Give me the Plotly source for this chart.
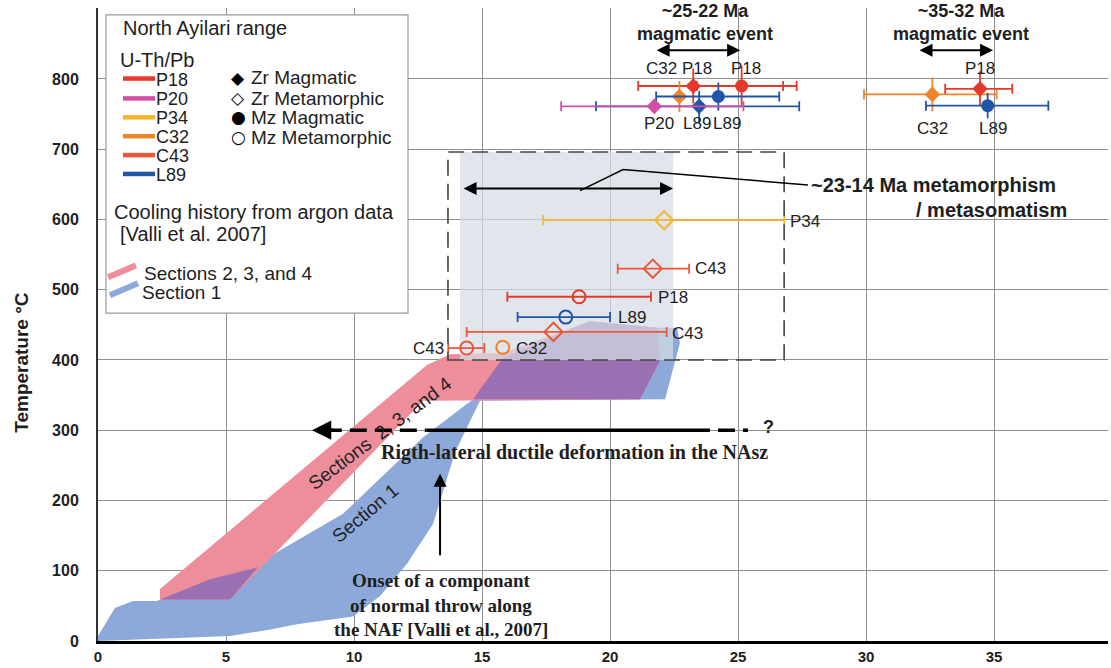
import plotly.graph_objects as go

# ---------------- data ----------------
sample = ["P18", "P18", "C32", "L89", "L89", "P20", "C32", "P18", "L89",
          "P34", "C43", "P18", "L89", "C43", "C43", "C32"]
kind = ["Zr Magmatic", "Mz Magmatic", "Zr Magmatic", "Mz Magmatic", "Zr Magmatic",
        "Zr Magmatic", "Zr Magmatic", "Zr Magmatic", "Mz Magmatic",
        "Zr Metamorphic", "Zr Metamorphic", "Mz Metamorphic", "Mz Metamorphic",
        "Zr Metamorphic", "Mz Metamorphic", "Mz Metamorphic"]
age_ma = [23.25, 25.14, 22.71, 24.23, 23.48, 21.73, 32.59, 34.45, 34.75,
          22.11, 21.67, 18.79, 18.27, 17.79, 14.40, 15.81]
age_min = [21.10, 23.39, 22.71, 21.80, 19.45, 18.09, 29.92, 33.09, 32.34,
           17.39, 20.30, 15.99, 16.39, 14.40, 13.68, 15.81]
age_max = [26.76, 27.29, 22.71, 26.61, 27.39, 25.21, 35.10, 35.71, 37.12,
           26.81, 23.09, 21.60, 20.00, 22.21, 15.09, 15.81]
temp_c = [790, 790, 775, 775, 761, 761, 778, 786, 762,
          599, 530, 490, 461, 440, 417, 418]
temp_err = [25, 28, 22, 20, 22, 0, 24, 25, 18,
            0, 0, 0, 0, 0, 0, 0]

# cooling-history bands (Valli et al. 2007)
band234_age = [2.42, 5.16, 12.70, 21.17, 21.95, 21.84, 19.20, 15.82, 13.75, 12.85, 2.42]
band234_temp = [59, 59, 342, 344, 399, 446, 455, 410, 408, 393, 74]
band1_age = [0.0, 5.16, 6.84, 7.77, 9.96, 11.02, 12.07, 13.09, 13.95, 14.92, 22.15,
             22.73, 22.62, 21.84, 19.20, 15.82, 14.65, 12.70, 9.57, 6.21, 4.38,
             2.30, 1.37, 0.66, 0.0]
band1_temp = [0, 7, 17, 24, 35, 64, 110, 167, 269, 342, 344,
              424, 446, 446, 455, 403, 344, 290, 181, 110, 88,
              57, 57, 47, 7]
overlap_low_age = [2.42, 5.16, 6.25, 4.38]
overlap_low_temp = [59, 59, 105, 88]
overlap_high_age = [14.65, 21.17, 21.95, 21.84, 19.20, 15.82]
overlap_high_temp = [344, 344, 399, 446, 455, 403]

# metamorphism window
meta_box_age = [13.67, 26.80]
meta_box_temp = [400, 696]
meta_fill_age = [14.14, 22.46]
meta_arrow_age = [14.22, 22.46]
meta_arrow_temp = 644
meta_leader_age = [18.83, 20.51, 27.73]
meta_leader_temp = [641, 671, 649]

# magmatic events
event1_age = [21.76, 25.08]
event2_age = [32.03, 34.96]
event_temp = 841

# ductile deformation
deform_temp = 300
deform_dash_left = [8.36, 12.84]
deform_solid = [12.84, 23.24]
deform_dash_right = [23.24, 25.39]
onset_age = 13.36
onset_temp = [120, 238]

x_ticks = [0, 5, 10, 15, 20, 25, 30, 35]
y_ticks = [0, 100, 200, 300, 400, 500, 600, 700, 800, 900]
y_ticktext = ["0", "100", "200", "300", "400", "500", "600", "700", "800", ""]

legend_samples = ["P18", "P20", "P34", "C32", "C43", "L89"]
legend_kinds = ["Zr Magmatic", "Zr Metamorphic", "Mz Magmatic", "Mz Metamorphic"]
legend_glyphs = ["\u25C6", "\u25C7", "\u25CF", "\u25CB"]

# ---------------- styles ----------------
COL = {"P18": "#E8382B", "P20": "#D24FA6", "P34": "#F4B62C",
       "C32": "#F0842A", "C43": "#E9573C", "L89": "#1F56A8"}
SYM = {"Zr Magmatic": "diamond", "Zr Metamorphic": "diamond-open",
       "Mz Magmatic": "circle", "Mz Metamorphic": "circle-open"}
SIZE = {"Zr Magmatic": 12, "Zr Metamorphic": 14, "Mz Magmatic": 13, "Mz Metamorphic": 13}
SANS = "Liberation Sans, Arial, sans-serif"
SERIF = "Liberation Serif, Times New Roman, serif"
PINK = "#EF8E9B"
BLUE = "#8DA9D9"
PURPLE = "#9B70B3"

# plot area in pixels: left 98, right 1108, top 8, bottom 645
def P(px, py):
    return (px - 98) / 1010.0, (645 - py) / 637.0

fig = go.Figure()

# bands
fig.add_trace(go.Scatter(x=band1_age, y=band1_temp, fill="toself", fillcolor=BLUE,
                         mode="lines", line=dict(width=0), hoverinfo="skip"))
fig.add_trace(go.Scatter(x=band234_age, y=band234_temp, fill="toself", fillcolor=PINK,
                         mode="lines", line=dict(width=0), hoverinfo="skip"))
for ox, oy in [(overlap_low_age, overlap_low_temp), (overlap_high_age, overlap_high_temp)]:
    fig.add_trace(go.Scatter(x=ox, y=oy, fill="toself", fillcolor=PURPLE,
                             mode="lines", line=dict(width=0), hoverinfo="skip"))

# grey metamorphism window fill
fx = [meta_fill_age[0], meta_fill_age[1], meta_fill_age[1], meta_fill_age[0], meta_fill_age[0]]
fy = [meta_box_temp[0], meta_box_temp[0], meta_box_temp[1], meta_box_temp[1], meta_box_temp[0]]
fig.add_trace(go.Scatter(x=fx, y=fy, fill="toself", fillcolor="rgba(212,220,229,0.72)",
                         mode="lines", line=dict(width=0), hoverinfo="skip"))

# data points
for s, k, a, lo, hi, t, te in zip(sample, kind, age_ma, age_min, age_max, temp_c, temp_err):
    c = COL[s]
    ex = dict(type="data", symmetric=False, array=[hi - a], arrayminus=[a - lo],
              color=c, thickness=1.8, width=5, visible=(hi - lo) > 0)
    ey = dict(type="data", array=[te], color=c, thickness=1.8, width=0, visible=te > 0)
    fig.add_trace(go.Scatter(
        x=[a], y=[t], mode="markers", error_x=ex, error_y=ey,
        marker=dict(symbol=SYM[k], size=SIZE[k], color=c,
                    line=dict(width=2 if "open" in SYM[k] else 0, color=c)),
        name=f"{s} {k}"))

shapes = []
# dashed metamorphism box
shapes.append(dict(type="rect", xref="x", yref="y",
                   x0=meta_box_age[0], x1=meta_box_age[1], y0=meta_box_temp[0], y1=meta_box_temp[1],
                   line=dict(color="#444", width=1.6, dash="16px,8px"), layer="above"))
# leader line
shapes.append(dict(type="path", xref="x", yref="y",
                   path="M {} {} L {} {} L {} {}".format(meta_leader_age[0], meta_leader_temp[0],
                                                         meta_leader_age[1], meta_leader_temp[1],
                                                         meta_leader_age[2], meta_leader_temp[2]),
                   line=dict(color="black", width=1.5), layer="above"))
# deformation arrow shaft
for seg, dash in [(deform_dash_left, "17px,8px"), (deform_solid, "solid"), (deform_dash_right, "17px,8px")]:
    shapes.append(dict(type="line", xref="x", yref="y", x0=seg[0] + (0.5 if seg is deform_dash_left else 0),
                       x1=seg[1], y0=deform_temp, y1=deform_temp,
                       line=dict(color="black", width=3.5, dash=dash), layer="above"))

# legend box
lx0, ly0 = P(106, 15)
lx1, ly1 = P(408, 315)
shapes.append(dict(type="rect", xref="paper", yref="paper", x0=lx0, x1=lx1, y0=ly1, y1=ly0,
                   fillcolor="white", line=dict(color="#9a9a9a", width=1.2), layer="above"))
rows_py = [79, 99, 118, 137, 156, 175]
for s, py in zip(legend_samples, rows_py):
    a0, b0 = P(123, py)
    a1, _ = P(155, py)
    shapes.append(dict(type="line", xref="paper", yref="paper", x0=a0, x1=a1, y0=b0, y1=b0,
                       line=dict(color=COL[s], width=4.5), layer="above"))
for col, (p0, p1) in [(PINK, ((108, 279), (136, 267))), (BLUE, ((110, 297), (138, 285)))]:
    a0, b0 = P(*p0)
    a1, b1 = P(*p1)
    shapes.append(dict(type="line", xref="paper", yref="paper", x0=a0, x1=a1, y0=b0, y1=b1,
                       line=dict(color=col, width=6), layer="above"))

ann = []

def txt(text, x, y, size=17, xanchor="center", family=SANS, bold=False, ref="data",
        angle=0, color="#1e1e1e"):
    d = dict(text=text, x=x, y=y, showarrow=False, xanchor=xanchor, yanchor="middle",
             textangle=angle, borderpad=0,
             font=dict(family=family, size=size, color=color, weight="bold" if bold else "normal"))
    if ref == "paper":
        d.update(xref="paper", yref="paper")
    else:
        d.update(xref="x", yref="y")
    ann.append(d)

def arrow(x, y, ax, ay, width=2, both=False, size=1.3):
    ann.append(dict(x=x, y=y, ax=ax, ay=ay, xref="x", yref="y", axref="x", ayref="y",
                    text="", showarrow=True, arrowhead=2, arrowsize=size, arrowwidth=width,
                    arrowcolor="black", arrowside="end+start" if both else "end",
                    standoff=0, startstandoff=0))

# sample labels
for t, x, y in [("C32", 22.0, 815), ("P18", 23.4, 815), ("P18", 25.3, 815),
                ("P20", 21.9, 737), ("L89", 23.4, 737), ("L89", 24.57, 737),
                ("P18", 34.45, 815), ("C32", 32.58, 730), ("L89", 34.96, 730)]:
    txt(t, x, y)
for t, x, y in [("P34", 26.99, 597), ("C43", 23.28, 530), ("P18", 21.84, 489),
                ("L89", 20.27, 461), ("C43", 22.38, 438), ("C32", 16.29, 417)]:
    txt(t, x, y, xanchor="left")
txt("C43", 13.55, 417, xanchor="right")

# event annotations
txt("~25-22 Ma<br>magmatic event", 23.70, 881, size=18, bold=True)
txt("~35-32 Ma<br>magmatic event", 33.69, 881, size=18, bold=True)
arrow(event1_age[1], event_temp, event1_age[0], event_temp, both=True)
arrow(event2_age[1], event_temp, event2_age[0], event_temp, both=True)
arrow(meta_arrow_age[1], meta_arrow_temp, meta_arrow_age[0], meta_arrow_temp, both=True)
txt("~23-14 Ma metamorphism", 27.81, 649, size=20, bold=True, xanchor="left")
txt("/ metasomatism", 37.89, 614, size=20, bold=True, xanchor="right")

# deformation
arrow(deform_dash_left[0], deform_temp, deform_dash_left[0] + 0.9, deform_temp, width=3.5, size=1.1)
txt("?", 26.17, 304, size=18, bold=True)
txt("Rigth-lateral ductile deformation in the NAsz", 18.6, 269, size=20, bold=True, family=SERIF)
arrow(onset_age, onset_temp[1], onset_age, onset_temp[0], width=2)
txt("Onset of a componant", 13.4, 86, size=19, bold=True, family=SERIF)
txt("of normal throw along", 13.4, 51, size=19, bold=True, family=SERIF)
txt("the NAF [Valli et al., 2007]", 13.4, 17, size=19, bold=True, family=SERIF)

# band labels
txt("Sections  2, 3, and 4", 11.0, 296, size=19, angle=-37, color="#222")
txt("Section 1", 10.43, 181, size=19, angle=-40, color="#222")

# legend texts
px_, py_ = P(122, 28); txt("North Ayilari range", px_, py_, size=20, xanchor="left", ref="paper")
px_, py_ = P(119, 60); txt("U-Th/Pb", px_, py_, size=20, xanchor="left", ref="paper")
for s, py in zip(legend_samples, rows_py):
    px_, py_ = P(155, py + 1)
    txt(s, px_, py_, size=18, xanchor="left", ref="paper")
for g, k, py in zip(legend_glyphs, legend_kinds, [78, 99, 118, 138]):
    px_, py_ = P(238, py)
    txt(g, px_, py_, size=17, ref="paper", family="DejaVu Sans", color="black")
    px_, py_ = P(250, py)
    txt(k, px_, py_, size=19, xanchor="left", ref="paper")
px_, py_ = P(113, 213); txt("Cooling history from argon data", px_, py_, size=20, xanchor="left", ref="paper")
px_, py_ = P(119, 235); txt("[Valli et al. 2007]", px_, py_, size=20, xanchor="left", ref="paper")
px_, py_ = P(143, 275); txt("Sections 2, 3, and 4", px_, py_, size=19, xanchor="left", ref="paper")
px_, py_ = P(141, 294); txt("Section 1", px_, py_, size=19, xanchor="left", ref="paper")

# y-axis title
px_, py_ = P(22, 365)
txt("Temperature \u00b0C", px_, py_, size=19, bold=True, angle=-90, ref="paper")

fig.update_layout(
    width=1111, height=668,
    margin=dict(l=98, r=3, t=8, b=23),
    plot_bgcolor="white", paper_bgcolor="white",
    showlegend=False,
    shapes=shapes, annotations=ann,
    xaxis=dict(range=[0, 39.45], tickvals=x_ticks, showgrid=True, gridcolor="#8f8f8f",
               gridwidth=1, zeroline=False, showline=True, linecolor="black", linewidth=3,
               ticks="", tickfont=dict(family=SANS, size=15, color="#222", weight="bold"),
               ticklabelstandoff=0, fixedrange=True),
    yaxis=dict(range=[0, 901], tickvals=y_ticks, ticktext=y_ticktext, showgrid=True,
               gridcolor="#8f8f8f", gridwidth=1, zeroline=False, showline=True,
               linecolor="#333", linewidth=2, ticks="",
               tickfont=dict(family=SANS, size=16, color="#222", weight="bold"),
               ticklabelstandoff=14, fixedrange=True),
)

fig.write_html("out.html", config={"displayModeBar": False},
               post_script="document.body.style.margin='0px';document.body.style.overflow='hidden';")
